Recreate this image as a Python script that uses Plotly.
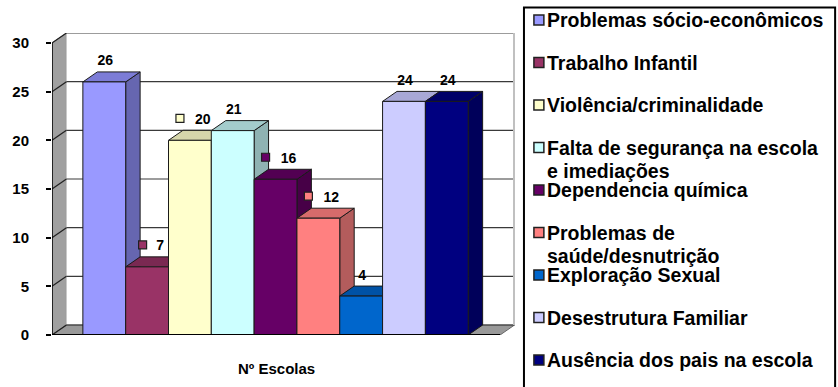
import plotly.graph_objects as go

# ---------------- data ----------------
categories = [
    "Problemas sócio-econômicos",
    "Trabalho Infantil",
    "Violência/criminalidade",
    "Falta de segurança na escola\ne imediações",
    "Dependencia química",
    "Problemas de\nsaúde/desnutrição",
    "Exploração Sexual",
    "Desestrutura Familiar",
    "Ausência dos pais na escola",
]
values = [26, 7, 20, 21, 16, 12, 4, 24, 24]
front_colors = ["#9999FF", "#993366", "#FFFFCC", "#CCFFFF", "#660066",
                "#FF8080", "#0066CC", "#CCCCFF", "#000080"]
top_colors = ["#7C7CD6", "#7A2952", "#D6D6AB", "#A3CCCC", "#520052",
              "#D66B6B", "#0052A6", "#A8A8D6", "#000068"]
side_colors = ["#6666B0", "#6B2447", "#B8B893", "#8FB3B3", "#470047",
               "#B35C5C", "#00478F", "#9090B8", "#00005A"]
label_has_key = [False, True, True, False, True, True, False, False, False]
y_ticks = [0, 5, 10, 15, 20, 25, 30]
x_title = "Nº Escolas"

# ---------------- geometry (pixel calibration) ----------------
W, H = 838, 387
PL, PR, PT, PB = 50, 515, 33, 335          # plot area in pixels
px_per_x = 43.0
px_per_y = 292.0 / 30.0
DX = 14.5 / px_per_x                        # depth offset in data units
DY = 10.0 / px_per_y
n = len(values)
x_min = -0.5 - 31.0 / px_per_x
x_front_end = (n - 0.5) + 32.0 / px_per_x
x_max = x_min + (PR - PL) / px_per_x
y_max = (PB - PT) / px_per_y
y_top = max(y_ticks)

def pxx(p):
    return (p - PL) / (PR - PL)

def pxy(p):
    return (PB - p) / (PB - PT)

FONT = "Liberation Sans, Arial, sans-serif"

fig = go.Figure()
shapes = []

# left wall
shapes.append(dict(type="path", layer="below", xref="x", yref="y",
                   path=f"M{x_min},0 L{x_min+DX},{DY} L{x_min+DX},{y_top+DY} L{x_min},{y_top} Z",
                   fillcolor="#A0A0A0", line=dict(color="#808080", width=1)))
# back wall
shapes.append(dict(type="rect", layer="below", xref="x", yref="y",
                   x0=x_min+DX, x1=x_front_end+DX, y0=DY, y1=y_top+DY,
                   fillcolor="white", line=dict(width=0)))
# floor
shapes.append(dict(type="path", layer="below", xref="x", yref="y",
                   path=f"M{x_min},0 L{x_front_end},0 L{x_front_end+DX},{DY} L{x_min+DX},{DY} Z",
                   fillcolor="#999999", line=dict(color="#666666", width=1)))
# gridlines (back wall + left wall slant)
for v in y_ticks:
    shapes.append(dict(type="line", layer="below", xref="x", yref="y",
                       x0=x_min+DX, x1=x_front_end+DX, y0=v+DY, y1=v+DY,
                       line=dict(color="#3A3A3A", width=1.2)))
    shapes.append(dict(type="line", layer="below", xref="x", yref="y",
                       x0=x_min, x1=x_min+DX, y0=v, y1=v+DY,
                       line=dict(color="#202020", width=1.2)))
# right edge of back wall
shapes.append(dict(type="line", layer="below", xref="x", yref="y",
                   x0=x_front_end+DX, x1=x_front_end+DX, y0=DY, y1=y_top+DY,
                   line=dict(color="#C0C0C0", width=3)))
# axis lines
shapes.append(dict(type="line", layer="above", xref="x", yref="y",
                   x0=x_min, x1=x_min, y0=0, y1=y_top,
                   line=dict(color="black", width=1.5)))
shapes.append(dict(type="line", layer="above", xref="x", yref="y",
                   x0=x_min, x1=x_front_end, y0=0, y1=0,
                   line=dict(color="black", width=2)))

# ---------------- 3D bars ----------------
for i, v in enumerate(values):
    xl, xr = i - 0.5, i + 0.5
    edge = dict(color="#1A1A1A", width=1)
    fig.add_trace(go.Scatter(x=[xr, xr+DX, xr+DX, xr, xr], y=[0, DY, v+DY, v, 0],
                             mode="lines", fill="toself", fillcolor=side_colors[i],
                             line=edge, showlegend=False, hoverinfo="skip"))
    fig.add_trace(go.Scatter(x=[xl, xr, xr+DX, xl+DX, xl], y=[v, v, v+DY, v+DY, v],
                             mode="lines", fill="toself", fillcolor=top_colors[i],
                             line=edge, showlegend=False, hoverinfo="skip"))
    fig.add_trace(go.Scatter(x=[xl, xr, xr, xl, xl], y=[0, 0, v, v, 0],
                             mode="lines", fill="toself", fillcolor=front_colors[i],
                             line=edge, name=categories[i].replace("\n", " "),
                             showlegend=False, hoverinfo="skip"))

# ---------------- data labels ----------------
lab_x, lab_y, lab_t = [], [], []
key_x, key_y, key_c = [], [], []
for i, v in enumerate(values):
    t = str(v)
    ly = v + 20.0 / px_per_y
    if label_has_key[i]:
        tx = i + 13.0 / px_per_x
        key_x.append(tx - (12.0 + 5.5 * len(t)) / px_per_x)
        key_y.append(ly + 2.0 / px_per_y)
        key_c.append(front_colors[i])
    else:
        tx = i + 1.0 / px_per_x
    lab_x.append(tx)
    lab_y.append(ly)
    lab_t.append(t)

fig.add_trace(go.Scatter(x=key_x, y=key_y, mode="markers",
                         marker=dict(symbol="square", size=8, color=key_c,
                                     line=dict(color="#202020", width=1.2)),
                         showlegend=False, hoverinfo="skip"))
fig.add_trace(go.Scatter(x=lab_x, y=lab_y, mode="text", text=lab_t,
                         textposition="middle center",
                         textfont=dict(family=FONT, size=14, color="black", weight="bold"),
                         showlegend=False, hoverinfo="skip"))

# ---------------- manual legend ----------------
annotations = []
shapes.append(dict(type="rect", xref="paper", yref="paper",
                   x0=pxx(524), x1=pxx(836.5), y0=pxy(396), y1=pxy(7.5),
                   line=dict(color="black", width=2), fillcolor="rgba(0,0,0,0)"))
for k, name in enumerate(categories):
    slot = 20.0 + 42.5 * k
    lines = name.split("\n")
    shapes.append(dict(type="rect", xref="paper", yref="paper",
                       x0=pxx(534), x1=pxx(544), y0=pxy(slot + 5), y1=pxy(slot - 5),
                       fillcolor=front_colors[k], line=dict(color="#202020", width=1.5)))
    for j, ln in enumerate(lines):
        annotations.append(dict(xref="paper", yref="paper", x=pxx(546),
                                y=pxy(slot + 23.5 * j),
                                xanchor="left", yanchor="middle", align="left",
                                text=ln, showarrow=False, borderpad=0,
                                font=dict(family=FONT, size=19.5, color="black", weight="bold")))

annotations.append(dict(xref="paper", yref="paper", x=pxx(275), y=pxy(368),
                        xanchor="center", yanchor="middle", text=x_title,
                        showarrow=False,
                        font=dict(family=FONT, size=15, color="black", weight="bold")))

fig.update_layout(
    width=W, height=H,
    margin=dict(l=PL, r=W - PR, t=PT, b=H - PB, pad=0),
    paper_bgcolor="white", plot_bgcolor="white",
    showlegend=False,
    shapes=shapes, annotations=annotations,
    xaxis=dict(range=[x_min, x_max], visible=False, fixedrange=True),
    yaxis=dict(range=[0, y_max], tickvals=y_ticks, ticks="outside", ticklen=5,
               tickcolor="black", tickwidth=1.5, showgrid=False, zeroline=False,
               showline=False, ticklabelstandoff=14,
               tickfont=dict(family=FONT, size=15, color="black", weight="bold"),
               fixedrange=True),
)

fig.write_html("out.html")
